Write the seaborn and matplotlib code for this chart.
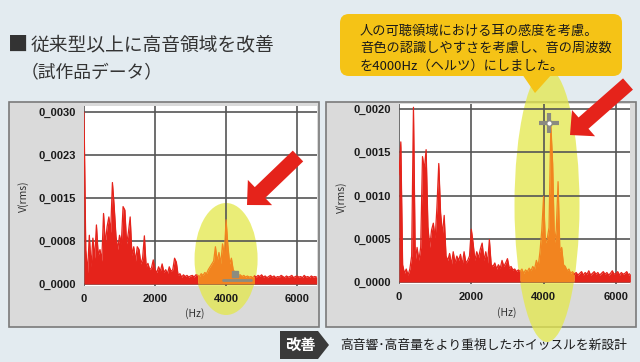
import numpy as np, pandas as pd, matplotlib
matplotlib.use('Agg')
import matplotlib.pyplot as plt
import matplotlib.patches as mpatches
import matplotlib.transforms as mtransforms
import seaborn as sns

# spectrum, units of 1e-4 V(rms), one value every 50 Hz
STEP_HZ = 50
old_amp = [30, 6, 2, 8.5, 3, 8, 4.5, 10.3, 5, 6,
           4, 12.3, 7, 10, 11.7, 9, 17.7, 13.5, 8.3, 6,
           8.5, 7, 13.5, 12.9, 7, 9, 11.7, 5, 6.5, 4,
           6.5, 6, 3.5, 4.5, 8.4, 3, 3.6, 2.5, 2.8, 4.2,
           2.5, 2, 3, 2.2, 3.5, 2, 2.5, 1.8, 3, 2.2,
           2.5, 4.5, 3.8, 1.5, 1.8, 1.2, 1.6, 1.3, 1.5, 1.2,
           1.4, 1.5, 1.2, 1.6, 1.5, 1.3, 1.8, 1.5, 2, 1.8,
           2.5, 3, 3.5, 4, 6.5, 4, 5.5, 3.5, 7, 5,
           11.2, 6.8, 3.5, 4.5, 2.5, 2, 1.8, 1.5, 1.6, 1.3,
           1.5, 1.2, 1.4, 1.2, 1.3, 1.1, 1.4, 1.2, 1.5, 1.3,
           1.6, 1.2, 1.4, 1.1, 1.3, 1.5, 1.2, 1.4, 1.1, 1.3,
           1.2, 1.5, 1.3, 1.1, 1.4, 1.2, 1.3, 1.5, 1.1, 1.3,
           1.4, 1.2, 1.3, 1.1, 1.5, 1.2, 1.3, 1.1, 1.4, 1.2,
           1.3, 1.2]
new_amp = [12.4, 16.2, 2, 1, 1.5, 0.8, 1.5, 3, 20.2, 2.5,
           4, 2.5, 4, 14.5, 13, 15.3, 6.4, 4, 6, 6.8,
           5, 8.7, 13.7, 8, 5.5, 7.7, 3, 2.5, 3.3, 2,
           3.5, 2.2, 3, 2.5, 3.2, 2, 3.5, 2.2, 2.5, 3,
           6.1, 4.5, 2.5, 3.5, 2.8, 3.8, 4.5, 2.5, 3.5, 2.2,
           4.9, 2, 1.8, 2.2, 1.5, 2, 1.6, 2.5, 1.8, 2.2,
           2.7, 1.6, 1.8, 1.4, 1.5, 1.2, 1.4, 1.2, 1.5, 1.0,
           1.4, 1.2, 1.6, 1.3, 1.8, 1.5, 2.5, 1.8, 3.5, 6,
           9.9, 4.5, 5, 6.3, 18.2, 13.7, 4.5, 6, 11.6, 3.5,
           4, 2, 1.8, 1.3, 1.5, 1.0, 1.2, 0.9, 1.1, 0.8,
           1.0, 1.2, 0.8, 1.1, 0.9, 1.3, 0.8, 1.0, 1.2, 0.9,
           1.1, 0.8, 1.0, 1.2, 0.9, 1.1, 0.8, 1.0, 1.3, 0.9,
           1.0, 1.2, 0.8, 1.1, 0.9, 1.0, 1.2, 0.8, 1.0]
old_band = (3200, 4800)
new_band = (3350, 4850)
old_yticks = [0, 0.00075, 0.0015, 0.00225, 0.003]
old_ylabels = ['0_0000', '0_0008', '0_0015', '0_0023', '0_0030']
new_yticks = [0, 0.0005, 0.001, 0.0015, 0.002]
new_ylabels = ['0_0000', '0_0005', '0_0010', '0_0015', '0_0020']
hz_ticks = [0, 2000, 4000, 6000]
old_cursor = (4240, 0.00018)
new_cursor = (4150, 0.00184)

title_lines = ['■従来型以上に高音領域を改善', '（試作品データ）']
bubble_lines = ['人の可聴領域における耳の感度を考慮。',
                '音色の認識しやすさを考慮し、音の周波数',
                'を4000Hz（ヘルツ）にしました。']
tag = '改善'
footer = '高音響･高音量をより重視したホイッスルを新設計'

RED, ORANGE, YEL, GOLD = '#e5231b', '#f2841f', '#e4e84a', '#f5c316'

sns.set_theme(style='whitegrid', rc={'grid.color': '#555555', 'grid.linewidth': 1.2})
plt.rcParams['font.family'] = ['Noto Sans CJK JP', 'DejaVu Sans']

fig = plt.figure(figsize=(6.4, 3.62), dpi=100)
fig.patch.set_facecolor('#e3ebf0')
# pixel coords measured from the top-left corner
px = mtransforms.Affine2D().scale(0.01, -0.01).translate(0, 3.62) + fig.dpi_scale_trans

# gray panel frames
for x0, x1 in [(9, 319), (326, 636)]:
    fig.add_artist(mpatches.Rectangle((x0, 102), x1 - x0, 225, transform=px,
                                      fc='#dadada', ec='#7a7a7a', lw=1.2, zorder=-1))


def draw_panel(rect, amp, band, ylim, xmax, yticks, ylabels, ell, ylab_xy, xlab_xy):
    ax = fig.add_axes(rect)
    ax.set_facecolor('white')
    ax.set_axisbelow(False)
    df = pd.DataFrame({'hz': np.arange(len(amp)) * STEP_HZ, 'v': np.array(amp) * 1e-4})
    lo, hi = band
    parts = [(df[df.hz <= lo], RED), (df[(df.hz >= lo) & (df.hz <= hi)], ORANGE),
             (df[df.hz >= hi], RED)]
    for part, c in parts:
        ax.fill_between(part.hz, 0, part.v, color=c, lw=0, zorder=3)
        sns.lineplot(data=part, x='hz', y='v', color=c, lw=0.9, estimator=None,
                     ax=ax, zorder=3)
    (cx, cy), w, h = ell
    ax.add_patch(mpatches.Ellipse((cx, cy), w, h, color=YEL, alpha=0.75, lw=0,
                                  clip_on=False, zorder=2))
    ax.set_xlim(0, xmax)
    ax.set_ylim(*ylim)
    ax.set_xticks(hz_ticks, labels=[str(t) for t in hz_ticks], fontsize=8,
                  fontweight='bold', family='Liberation Sans')
    ax.set_yticks(yticks, labels=ylabels, fontsize=8, fontweight='bold',
                  family='Liberation Sans')
    ax.tick_params(length=4, width=1, color='#555555', pad=2, labelcolor='#1a1a1a')
    for s in ax.spines.values():
        s.set_visible(False)
    ax.set_xlabel('(Hz)', fontsize=7.5, color='#333333')
    ax.set_ylabel('V(rms)', fontsize=7.5, color='#333333')
    ax.yaxis.set_label_coords(*ylab_xy)
    ax.xaxis.set_label_coords(*xlab_xy)
    return ax


ax1 = draw_panel([84 / 640, 1 - 286 / 362, 233 / 640, 180 / 362], old_amp, old_band,
                 (-0.000035, 0.003105), 6560, old_yticks, old_ylabels,
                 ((4000, 0.000436), 1775, 0.001954), (-0.236, 0.5), (0.476, -0.122))
ax1.plot([3900, 4700], [0.00007, 0.00007], color='#8c8c80', lw=2, zorder=4)
ax1.plot(*old_cursor, marker='s', ms=5, color='#8c8c80', zorder=4)

ax2 = draw_panel([399 / 640, 1 - 284 / 362, 231 / 640, 180 / 362], new_amp, new_band,
                 (-0.000023, 0.002058), 6390, new_yticks, new_ylabels,
                 ((4094, 0.00089), 1798, 0.003168), (-0.225, 0.48), (0.468, -0.128))
ax2.plot(*new_cursor, marker='+', ms=15, mew=3, color='#8a8a80', zorder=4)
ax2.plot(*new_cursor, marker='o', ms=4, mfc='white', mec='#8a8a80', zorder=5)

# titles (the square bullet is drawn a bit larger, as in the original)
fig.text(8, 45, title_lines[0][0], transform=px, fontsize=14.5, color='#333333', va='center')
fig.text(31, 45, title_lines[0][1:], transform=px, fontsize=13.5, color='#333333',
         va='center')
fig.text(21, 72, title_lines[1], transform=px, fontsize=12.8, color='#333333', va='center')

# red arrows
for (x, y), (dx, dy) in [((298, 156), (-51, 49)), ((628, 84), (-58, 51))]:
    fig.add_artist(mpatches.FancyArrow(x, y, dx, dy, width=15, head_width=35,
                                       head_length=18, length_includes_head=True,
                                       transform=px, color=RED, lw=0, zorder=6))

# callout bubble
fig.add_artist(mpatches.Polygon([(522, 74), (552, 74), (535, 93)], closed=True,
                                transform=px, fc=GOLD, ec='none', zorder=7))
fig.add_artist(mpatches.FancyBboxPatch((340, 14), 282, 62,
                                       boxstyle='round,pad=0,rounding_size=9',
                                       transform=px, fc=GOLD, ec='none', zorder=7))
for i, line in enumerate(bubble_lines):
    fig.text(360, 31 + i * 17.5, line, transform=px, fontsize=9.5, color='#1a1a1a',
             va='center', zorder=8)

# bottom tag
fig.add_artist(mpatches.Polygon([(280, 331), (318, 331), (329, 345), (318, 359), (280, 359)],
                                closed=True, transform=px, fc='#3a3a3a', ec='none', zorder=7))
fig.text(300, 345, tag, transform=px, fontsize=11, color='white', fontweight='bold',
         ha='center', va='center', zorder=8)
fig.text(340, 345, footer, transform=px, fontsize=9.2, color='#1a1a1a', va='center', zorder=8)

fig.savefig('out.png', dpi=100, facecolor=fig.get_facecolor())
